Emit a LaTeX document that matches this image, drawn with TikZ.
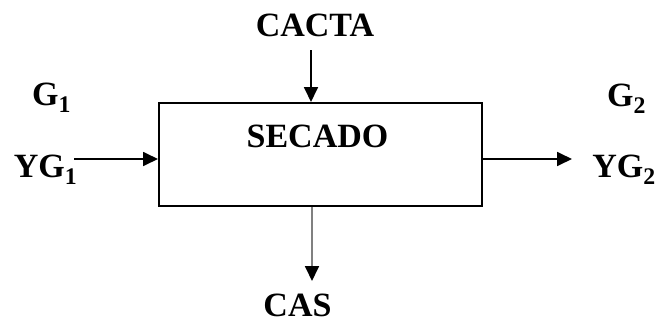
\documentclass[tikz,border=0pt]{standalone}
\usepackage{fontspec}
\setmainfont{Liberation Serif}
\usetikzlibrary{positioning, arrows.meta}

\tikzset{
    lbl/.style={inner sep=0, anchor=base, font=\fontsize{34}{40}\selectfont\bfseries},
    flow/.style={line width=1.8pt, -{Triangle[length=15pt, width=14pt, black]}},
}

\begin{document}
\begin{tikzpicture}[x=1pt, y=-1pt]
    \useasboundingbox (0, 0) rectangle (659, 322);
    \node (secado) [draw, line width=2pt, rectangle, minimum width=323pt, minimum height=103pt, inner sep=0] at (320.5, 154.5) {};
    \node (secado-txt) [lbl] at (317.5, 147) {SECADO};
    \node (cacta) [lbl] at (315, 36) {CACTA};
    \node (cas) [lbl] at (297.5, 316) {CAS};
    \node (g1) [lbl] at (51.5, 105) {G\textsubscript{1}};
    \node (yg1) [lbl] at (45.5, 177) {YG\textsubscript{1}};
    \node (g2) [lbl] at (626.5, 106) {G\textsubscript{2}};
    \node (yg2) [lbl] at (624, 177) {YG\textsubscript{2}};
    \coordinate (cacta-in) at (311, 50);
    \coordinate (yg1-in) at (74, 159);
    \coordinate (yg2-out) at (572, 159);
    \coordinate (cas-out) at (312, 281);
    \draw [flow] (cacta-in) -- (cacta-in |- secado.north);
    \draw [flow] (yg1-in) -- (yg1-in -| secado.west);
    \draw [flow] (yg2-out -| secado.east) -- (yg2-out);
    \draw [flow, gray] (cas-out |- secado.south) -- (cas-out);
\end{tikzpicture}
\end{document}
